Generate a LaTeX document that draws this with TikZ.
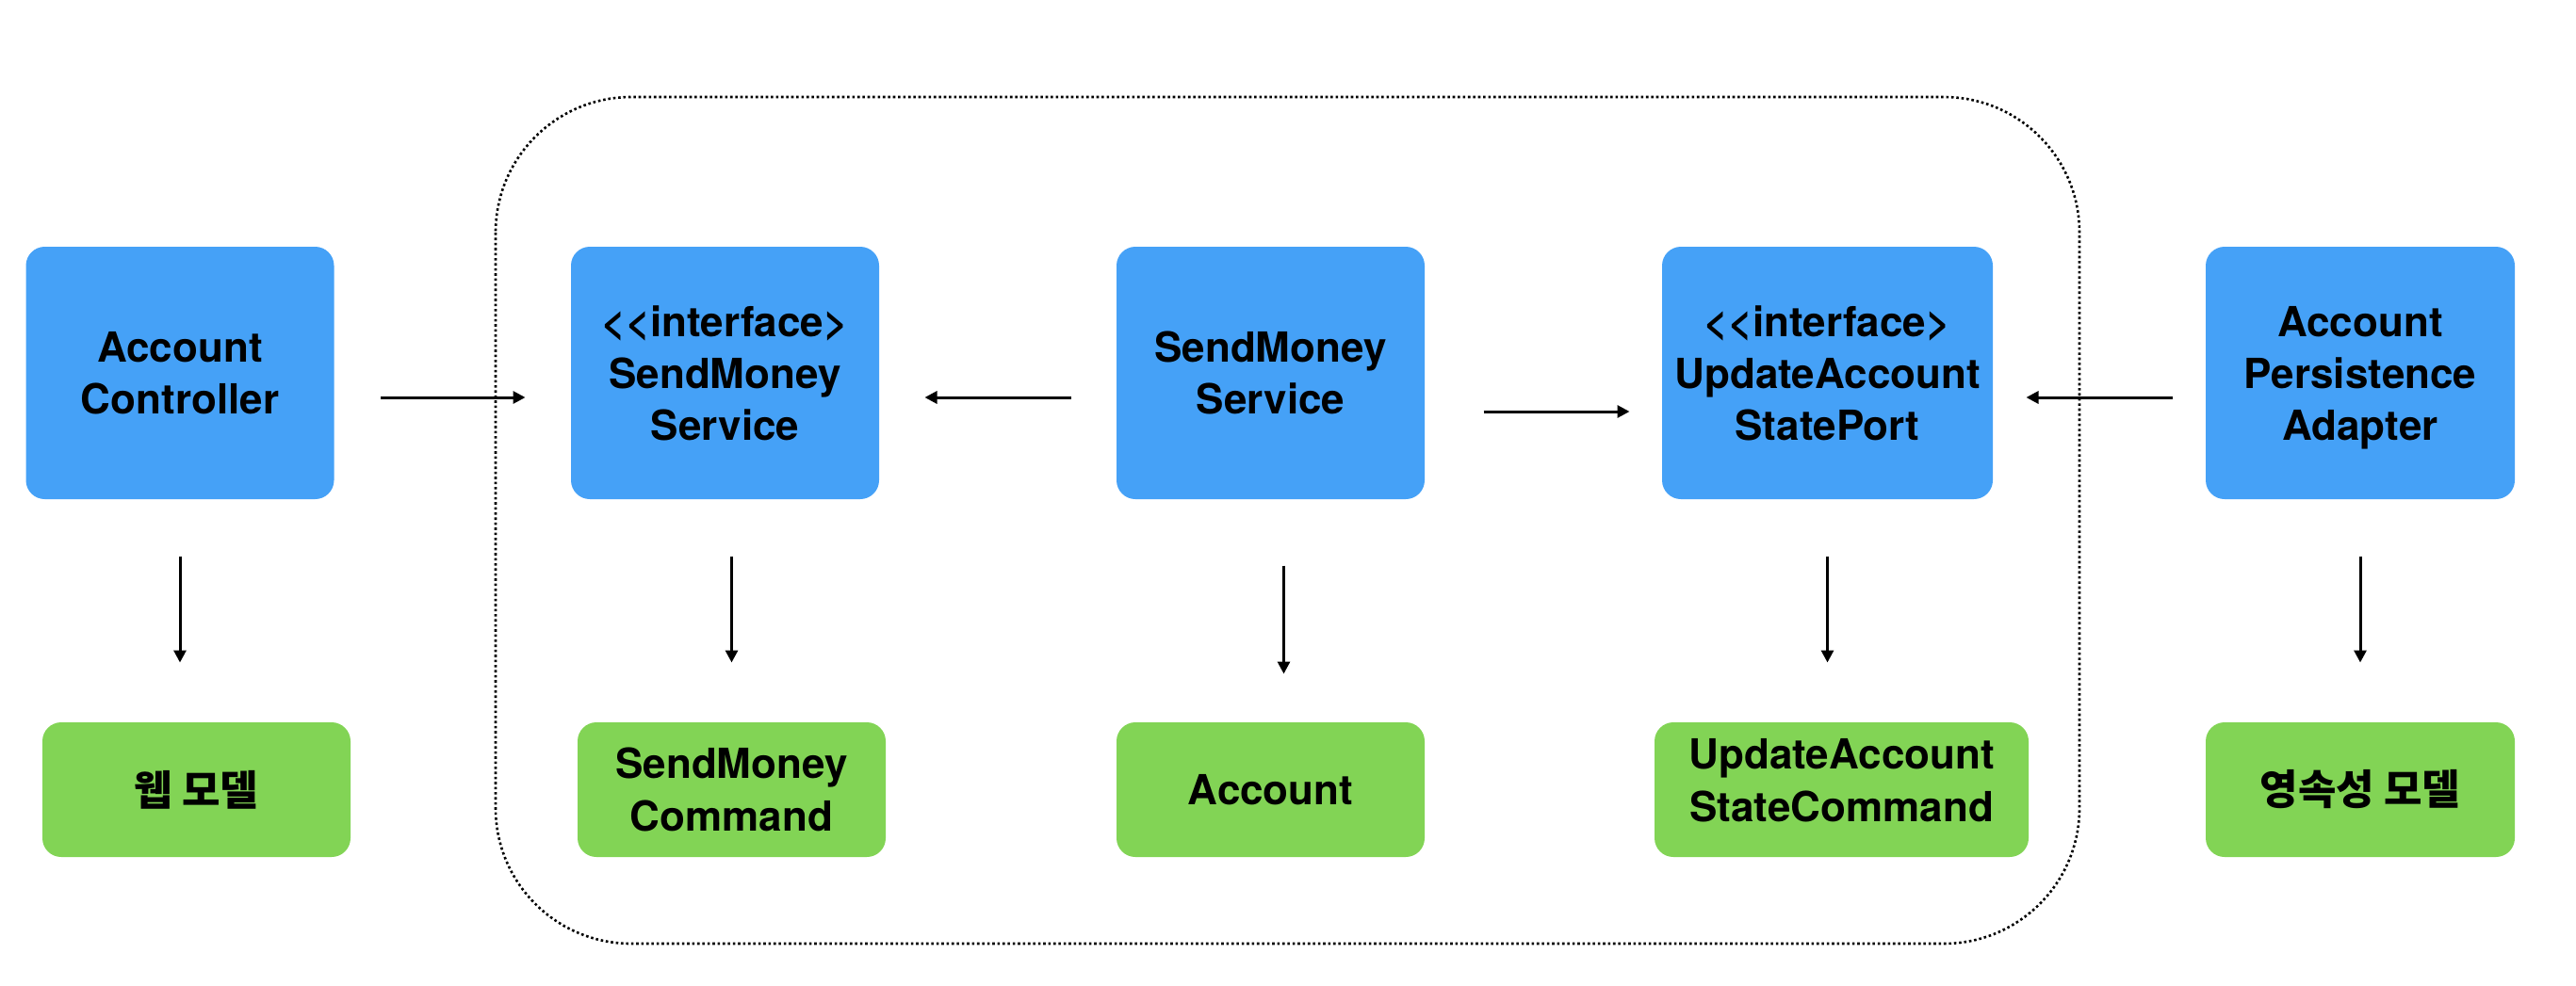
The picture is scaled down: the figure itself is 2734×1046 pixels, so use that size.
\documentclass[tikz,border=0pt]{standalone}
\usepackage{fontspec}
\setmainfont{TeX Gyre Heros}
\newfontfamily\krfont{Noto Sans CJK KR}
\usetikzlibrary{arrows.meta}

\definecolor{portBlue}{RGB}{69,161,247}
\definecolor{modelGreen}{RGB}{130,212,85}

% lines set as a block, with extra room added above (#1) and below (#2)
\newcommand{\padlines}[3]{\raisebox{0pt}[\dimexpr\height+#1\relax][\dimexpr\depth+#2\relax]{\begin{tabular}{@{}c@{}}#3\end{tabular}}}

\tikzset{every picture/.style={line width=1.5pt}}
\tikzset{
  comp/.style={fill=portBlue, rounded corners=10pt, minimum width=163.5pt, minimum height=134pt,
    align=center, inner sep=0pt, font=\bfseries\fontsize{22}{27.5}\selectfont},
  model/.style={fill=modelGreen, rounded corners=10pt, minimum width=163.5pt, minimum height=71.5pt,
    align=center, inner sep=0pt, font=\bfseries\fontsize{22}{28}\selectfont},
  arr/.style={-{Triangle[length=6.5pt,width=6.5pt]}, line width=1.5pt},
}

\begin{document}
\begin{tikzpicture}[x=0.5pt,y=0.5pt,yscale=-1,xscale=1]
\useasboundingbox (0,0) rectangle (2734,1046);

%Rounded Rect (application boundary)
\draw [line width=1.3pt, dash pattern={on 1.3pt off 1.4pt}, rounded corners=72pt] (526,103) rectangle (2207,1002);

% Blue boxes
\node [comp] (ctrl) at (191,396) {Account\\Controller};
\node [comp] (sendUC) at (769.5,396) {{<}{<}interface{>}\\SendMoney\\Service};
\node [comp] (sendSvc) at (1348.5,396) {SendMoney\\Service};
\node [comp, minimum width=175.5pt] (updPort) at (1939.5,396) {{<}{<}interface{>}\\UpdateAccount\\StatePort};
\node [comp, minimum width=164pt] (persAdp) at (2505,396) {\padlines{5pt}{0pt}{Account\\Persistence\\Adapter}};

% Green boxes
\node [model, minimum width=163.5pt] (webModel) at (208.5,838.5) {\krfont\bfseries 웹 모델};
\node [model] (sendCmd) at (776.5,838.5) {SendMoney\\Command};
\node [model] (account) at (1348.5,838.5) {Account};
\node [model, minimum width=198.5pt] (updCmd) at (1954.5,838.5) {\padlines{0pt}{5pt}{UpdateAccount\\StateCommand}};
\node [model, minimum width=164pt] (persModel) at (2505,838.5) {\krfont\bfseries 영속성 모델};

%Straight Lines
\draw [arr, shorten <=24pt, shorten >=23.5pt] ([yshift=13pt]ctrl.east) -- ([yshift=13pt]sendUC.west);
\draw [arr, shorten <=23.5pt, shorten >=23.5pt] ([yshift=13pt]sendSvc.west) -- ([yshift=13pt]sendUC.east);
\draw [arr, shorten <=30.5pt, shorten >=16.5pt] ([yshift=20.5pt]sendSvc.east) -- ([yshift=20.5pt]updPort.west);
\draw [arr, shorten <=17pt, shorten >=17pt] ([yshift=13pt]persAdp.west) -- ([yshift=13pt]updPort.east);

%Straight Lines
\draw [arr, shorten <=29.5pt, shorten >=31pt] (ctrl.south) -- (ctrl.south |- webModel.north);
\draw [arr, shorten <=29.5pt, shorten >=31pt] (sendCmd.north |- sendUC.south) -- (sendCmd.north);
\draw [arr, shorten <=34.5pt, shorten >=25pt] ([xshift=7pt]sendSvc.south) -- ([xshift=7pt]account.north);
\draw [arr, shorten <=29.5pt, shorten >=31pt] (updPort.south) -- (updPort.south |- updCmd.north);
\draw [arr, shorten <=29.5pt, shorten >=31pt] (persAdp.south) -- (persModel.north);

\end{tikzpicture}
\end{document}
